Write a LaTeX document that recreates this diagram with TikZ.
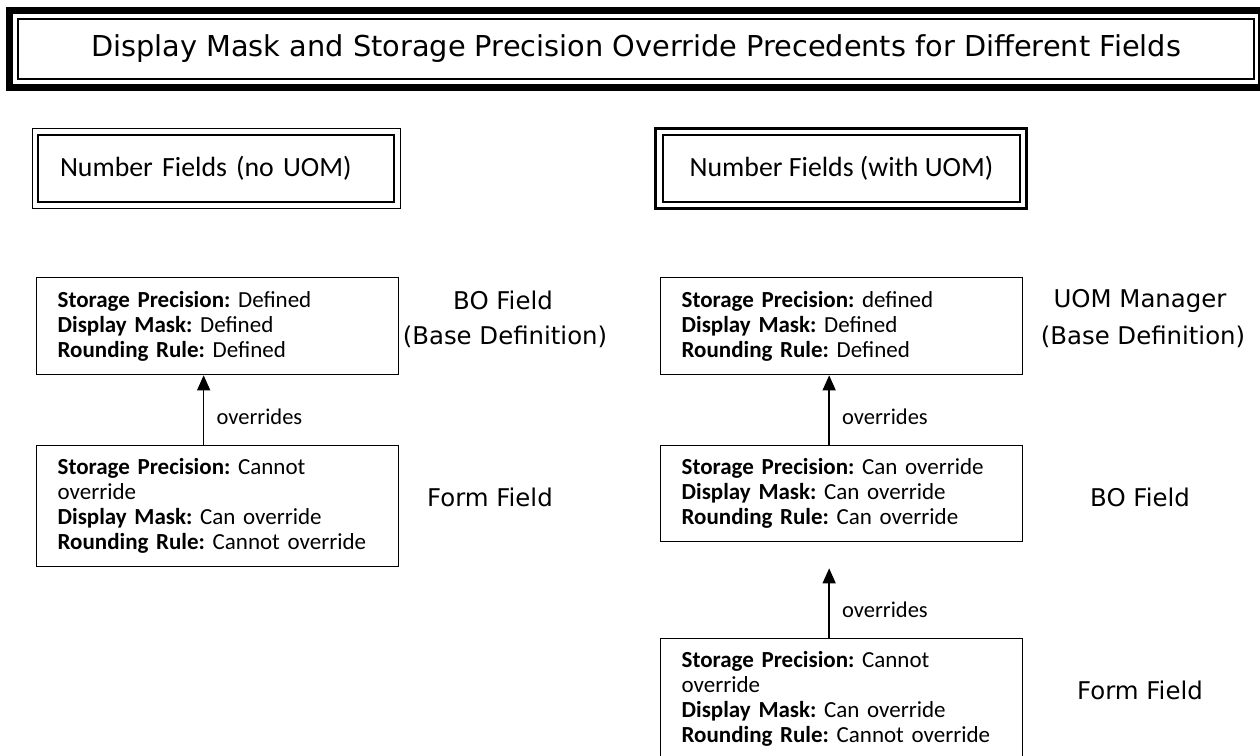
\documentclass[tikz,border=0pt]{standalone}
\usepackage{fontspec}
\setmainfont{Carlito}
\newfontfamily\labelfont{DejaVu Sans}
\usetikzlibrary{arrows.meta}
\frenchspacing

\begin{document}
\begin{tikzpicture}[x=1pt,y=-1pt,
  rulebox/.style={draw,line width=1.3pt,anchor=north west,minimum width=362pt,
    text width=320pt,inner xsep=21pt,align=left,
    font=\fontsize{23}{25}\selectfont},
  sidelabel/.style={font=\labelfont\fontsize{24.4}{28}\selectfont},
  overrides/.style={line width=1.4pt,-{Triangle[width=13pt,length=15pt]}},
  arrowlabel/.style={right=9pt,font=\fontsize{22.5}{24}\selectfont}]
  \useasboundingbox (0,0) rectangle (1260,755);

  \node [draw,line width=1.5pt,minimum width=1236pt,minimum height=60pt,
         font=\labelfont\fontsize{28.8}{32}\selectfont] (title) at (636,49)
        {Display Mask and Storage Precision Override Precedents for Different Fields};
  \draw [line width=7pt] ([shift={(-7.5,-7.5)}]title.north west)
        rectangle ([shift={(6.5,8)}]title.south east);

  % headers
  \node [draw,line width=1.3pt,minimum height=67pt,text width=312pt,inner xsep=22pt,
         align=left,font=\fontsize{27.8}{30}\selectfont] (hdnouom) at (216,168.5)
        {Number Fields (no UOM)};
  \draw [line width=1.3pt] ([shift={(-5,-6)}]hdnouom.north west)
        rectangle ([shift={(6,6)}]hdnouom.south east);

  \node [draw,line width=1.5pt,minimum width=357pt,minimum height=67pt,
         font=\fontsize{27.8}{30}\selectfont] (hduom) at (841.5,168.5)
        {Number Fields (with UOM)};
  \draw [line width=3pt] ([shift={(-6.5,-5.5)}]hduom.north west)
        rectangle ([shift={(5.5,5.5)}]hduom.south east);

  % no UOM
  \node [rulebox,minimum height=97pt] (bofield) at (36,277)
        {\textbf{Storage Precision:} Defined\\
         \textbf{Display Mask:} Defined\\
         \textbf{Rounding Rule:} Defined};
  \node [rulebox,minimum height=121pt] (formfield) at (36,445)
        {\textbf{Storage Precision:} Cannot\\ override\\
         \textbf{Display Mask:} Can override\\
         \textbf{Rounding Rule:} Cannot override};
  \draw [overrides] ([xshift=-14pt]formfield.north) --
        node [arrowlabel,pos=0.4] {overrides} ([xshift=-14pt]bofield.south);

  \node [sidelabel] at (503,300) {BO Field};
  \node [sidelabel] at (505,337) {(Base Definition)};
  \node [sidelabel] at (490,497) {Form Field};

  % with UOM
  \node [rulebox,minimum height=97pt] (uommgr) at (660,277)
        {\textbf{Storage Precision:} defined\\
         \textbf{Display Mask:} Defined\\
         \textbf{Rounding Rule:} Defined};
  \node [rulebox,minimum height=96pt] (bofielduom) at (660,445)
        {\textbf{Storage Precision:} Can override\\
         \textbf{Display Mask:} Can override\\
         \textbf{Rounding Rule:} Can override};
  \node [rulebox,minimum height=121pt] (formfielduom) at (660,638)
        {\textbf{Storage Precision:} Cannot\\ override\\
         \textbf{Display Mask:} Can override\\
         \textbf{Rounding Rule:} Cannot override};
  \draw [overrides] ([xshift=-12.5pt]bofielduom.north) --
        node [arrowlabel,pos=0.4] {overrides} ([xshift=-12.5pt]uommgr.south);
  \draw [overrides,shorten >=26pt] ([xshift=-12.5pt]formfielduom.north) --
        node [arrowlabel,pos=0.3] {overrides} ([xshift=-12.5pt]bofielduom.south);

  \node [sidelabel] at (1140,301) {UOM Manager};
  \node [sidelabel] at (1143,337) {(Base Definition)};
  \node [sidelabel] at (1140,497) {BO Field};
  \node [sidelabel] at (1140,690) {Form Field};
\end{tikzpicture}
\end{document}
